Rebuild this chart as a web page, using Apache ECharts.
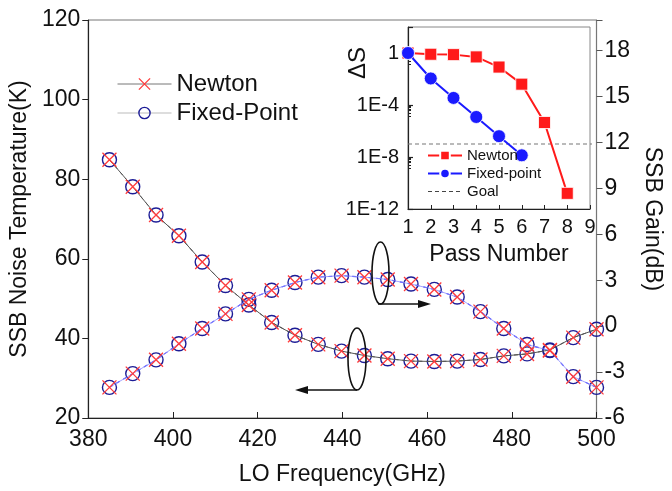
<!DOCTYPE html>
<html>
<head>
<meta charset="utf-8">
<script src="https://cdn.jsdelivr.net/npm/echarts@6/dist/echarts.min.js"></script>
<style>
  html, body { margin: 0; padding: 0; background: #fff; }
  #chart { width: 672px; height: 491px; }
</style>
</head>
<body>
<div id="chart"></div>
<script>
// main plot: LO frequency sweep
const freq = [385, 390.5, 396, 401.4, 406.9, 412.4, 417.9, 423.3, 428.8, 434.3, 439.8,
              445.2, 450.7, 456.2, 461.7, 467.1, 472.6, 478.1, 483.6, 489.0, 494.5, 500];
const noiseTemp = [84.9, 78.1, 71.0, 65.8, 59.2, 53.3, 48.4, 44.0, 40.8, 38.5, 36.8,
                   35.7, 34.9, 34.3, 34.2, 34.3, 34.7, 35.6, 36.1, 37.1, 40.2, 42.3];
const gainDb = [-4.0, -3.1, -2.2, -1.15, -0.15, 0.8, 1.75, 2.35, 2.85, 3.2, 3.3,
                3.2, 3.05, 2.75, 2.4, 1.9, 0.95, -0.15, -1.2, -1.6, -3.3, -4.0];

// inset: convergence vs pass number
const passNewton = [1, 2, 3, 4, 5, 6, 7, 8];
const dsNewton = [1, 0.8, 0.75, 0.5, 0.083, 0.004, 4.5e-6, 1.6e-11];
const passFixed = [1, 2, 3, 4, 5, 6];
const dsFixed = [1, 0.011, 3.5e-4, 1.2e-5, 4e-7, 1.35e-8];
const goalDs = 1e-7;
const goalPass = [1, 9.44];

const zip = (xs, ys) => xs.map((x, i) => [x, ys[i]]);

const FONT = 'Liberation Sans';
const X_PATH = 'path://M0,0L10,10M10,0L0,10';
const RED_X = '#ff3b3b';
const NAVY = '#1c1c96';

const newtonMark = {
  symbol: X_PATH, symbolSize: 14,
  itemStyle: { color: RED_X, borderColor: RED_X, borderWidth: 1.3 }
};
const fixedMark = {
  symbol: 'circle', symbolSize: 14,
  itemStyle: { color: 'rgba(0,0,0,0)', borderColor: NAVY, borderWidth: 1.4 }
};

const chart = echarts.init(document.getElementById('chart'));

const option = {
  animation: false,
  textStyle: { fontFamily: FONT, color: '#111' },
  grid: [
    { left: 86, right: 72, top: 20, bottom: 69, show: true, borderColor: '#777', borderWidth: 1 },
    { left: 408, right: 82, top: 27, bottom: 282, show: true, borderColor: '#888', borderWidth: 1, backgroundColor: '#fff', z: 5 }
  ],
  xAxis: [
    {
      gridIndex: 0, type: 'value', min: 380, max: 500, interval: 20,
      name: 'LO Frequency(GHz)', nameLocation: 'middle', nameGap: 45,
      nameTextStyle: { fontSize: 23, fontFamily: FONT, color: '#111' },
      axisLine: { onZero: false, lineStyle: { color: '#222', width: 1.2 } },
      axisTick: { inside: true, length: 6, lineStyle: { color: '#222' } },
      axisLabel: { fontSize: 23, margin: 10, color: '#111', fontFamily: FONT },
      splitLine: { show: false }
    },
    {
      gridIndex: 1, type: 'value', min: 1, max: 9, interval: 1,
      name: 'Pass Number', nameLocation: 'middle', nameGap: 34,
      nameTextStyle: { fontSize: 23, fontFamily: FONT, color: '#111' },
      axisLine: { onZero: false, lineStyle: { color: '#222', width: 1.2 } },
      axisTick: { inside: true, length: 4, lineStyle: { color: '#222' } },
      axisLabel: { fontSize: 20, margin: 8, color: '#111', fontFamily: FONT },
      splitLine: { show: false }, z: 6
    }
  ],
  yAxis: [
    {
      gridIndex: 0, type: 'value', min: 20, max: 120, interval: 20,
      name: 'SSB Noise Temperature(K)', nameLocation: 'middle', nameGap: 37, nameRotate: 90,
      nameTextStyle: { fontSize: 23, fontFamily: FONT, color: '#111' },
      axisLine: { show: true, onZero: false, lineStyle: { color: '#222', width: 1.2 } },
      axisTick: { inside: false, length: 6, lineStyle: { color: '#222' } },
      axisLabel: { fontSize: 23, margin: 8, color: '#111', fontFamily: FONT },
      splitLine: { show: false }
    },
    {
      gridIndex: 0, type: 'value', position: 'right', min: -6, max: 20, interval: 3,
      name: 'SSB Gain(dB)', nameLocation: 'middle', nameGap: 29, nameRotate: -90,
      nameTextStyle: { fontSize: 23, fontFamily: FONT, color: '#111' },
      axisLine: { show: true, onZero: false, lineStyle: { color: '#777', width: 1.2 } },
      axisTick: { inside: false, length: 6, lineStyle: { color: '#555' } },
      axisLabel: {
        fontSize: 23, margin: 8, color: '#111', fontFamily: FONT,
        formatter: v => (v % 3 === 0 ? String(v) : '')
      },
      splitLine: { show: false }
    },
    {
      gridIndex: 1, type: 'log', logBase: 10000, min: 1e-12, max: 100,
      axisLine: { show: true, onZero: false, lineStyle: { color: '#222', width: 1.2 } },
      axisTick: { inside: true, length: 5, lineStyle: { color: '#222', width: 1.2 } },
      minorTick: { show: true, splitNumber: 8, length: 3, lineStyle: { color: '#222' } },
      axisLabel: {
        fontSize: 20, margin: 9, color: '#111', fontFamily: FONT,
        formatter: v => {
          const e = Math.round(Math.log10(v));
          if (e > 0) return '';
          return e === 0 ? '1' : '1E' + e;
        }
      },
      splitLine: { show: false }, z: 6
    }
  ],
  legend: [
    {
      left: 112, top: 67, orient: 'vertical', itemWidth: 54, itemHeight: 14, itemGap: 5,
      textStyle: { fontSize: 24, fontFamily: FONT, color: '#111' },
      data: [
        { name: 'Newton', lineStyle: { color: '#777', width: 1, type: 'solid' },
          itemStyle: { color: RED_X, borderColor: RED_X, borderWidth: 1.3 } },
        { name: 'Fixed-Point', lineStyle: { color: '#bbb', width: 1, type: 'solid' },
          itemStyle: { color: 'rgba(0,0,0,0)', borderColor: NAVY, borderWidth: 1.4 } }
      ]
    },
    {
      left: 422, top: 143, orient: 'vertical', itemWidth: 34, itemHeight: 12, itemGap: 3,
      z: 10,
      textStyle: { fontSize: 15, fontFamily: FONT, color: '#111' },
      formatter: name => name.replace(' (dS)', ''),
      data: [
        { name: 'Newton (dS)' },
        { name: 'Fixed-point' },
        { name: 'Goal', lineStyle: { color: '#444', width: 1, type: [4, 3] },
          itemStyle: { color: 'rgba(0,0,0,0)', borderWidth: 0 } }
      ]
    }
  ],
  series: [
    {
      name: 'Newton', type: 'line', xAxisIndex: 0, yAxisIndex: 0,
      data: zip(freq, noiseTemp), ...newtonMark,
      lineStyle: { color: '#555', width: 1 }, z: 3
    },
    {
      name: 'Fixed-Point', type: 'line', xAxisIndex: 0, yAxisIndex: 0,
      data: zip(freq, noiseTemp), ...fixedMark,
      lineStyle: { color: '#444', width: 1, type: [4, 4] }, z: 2
    },
    {
      name: 'Newton', type: 'line', xAxisIndex: 0, yAxisIndex: 1,
      data: zip(freq, gainDb), ...newtonMark,
      lineStyle: { color: '#8c8cff', width: 0.8 }, z: 3
    },
    {
      name: 'Fixed-Point', type: 'line', xAxisIndex: 0, yAxisIndex: 1,
      data: zip(freq, gainDb), ...fixedMark,
      lineStyle: { color: '#3a3aff', width: 1.1, type: [4, 4] }, z: 2
    },
    {
      name: 'Goal', type: 'line', xAxisIndex: 1, yAxisIndex: 2,
      data: goalPass.map(p => [p, goalDs]), symbol: 'none', clip: false,
      lineStyle: { color: '#777', width: 1.2, type: [4, 3] },
      itemStyle: { color: '#444' }, z: 6
    },
    {
      name: 'Newton (dS)', type: 'line', xAxisIndex: 1, yAxisIndex: 2,
      data: zip(passNewton, dsNewton), symbol: 'rect', symbolSize: 12,
      itemStyle: { color: '#ff1a1a', borderColor: '#fff', borderWidth: 0.8 },
      lineStyle: { color: '#ff1a1a', width: 2 }, z: 7
    },
    {
      name: 'Fixed-point', type: 'line', xAxisIndex: 1, yAxisIndex: 2,
      data: zip(passFixed, dsFixed), symbol: 'circle', symbolSize: 13,
      itemStyle: { color: '#1a1aff', borderColor: '#fff', borderWidth: 0.8 },
      lineStyle: { color: '#1a1aff', width: 2 }, z: 8
    }
  ],
  graphic: [
    { type: 'text', x: 358, y: 63, rotation: Math.PI / 2, z: 10,
      style: { text: 'ΔS', fontSize: 24, fontFamily: FONT, fill: '#111', align: 'center', verticalAlign: 'middle' } },
    // annotation ellipses and arrows
    { type: 'ellipse', shape: { cx: 380.5, cy: 273, rx: 8.5, ry: 31 },
      style: { fill: 'none', stroke: '#111', lineWidth: 1.6 }, z: 10 },
    { type: 'line', shape: { x1: 378, y1: 304, x2: 420, y2: 304 },
      style: { stroke: '#111', lineWidth: 1.6 }, z: 10 },
    { type: 'polygon', shape: { points: [[431, 304], [418, 300], [418, 308]] },
      style: { fill: '#111' }, z: 10 },
    { type: 'ellipse', shape: { cx: 357, cy: 359, rx: 9, ry: 31 },
      style: { fill: 'none', stroke: '#111', lineWidth: 1.6 }, z: 10 },
    { type: 'line', shape: { x1: 357, y1: 390, x2: 306, y2: 390 },
      style: { stroke: '#111', lineWidth: 1.6 }, z: 10 },
    { type: 'polygon', shape: { points: [[295, 390], [308, 386], [308, 394]] },
      style: { fill: '#111' }, z: 10 }
  ]
};

chart.setOption(option);
</script>
</body>
</html>
